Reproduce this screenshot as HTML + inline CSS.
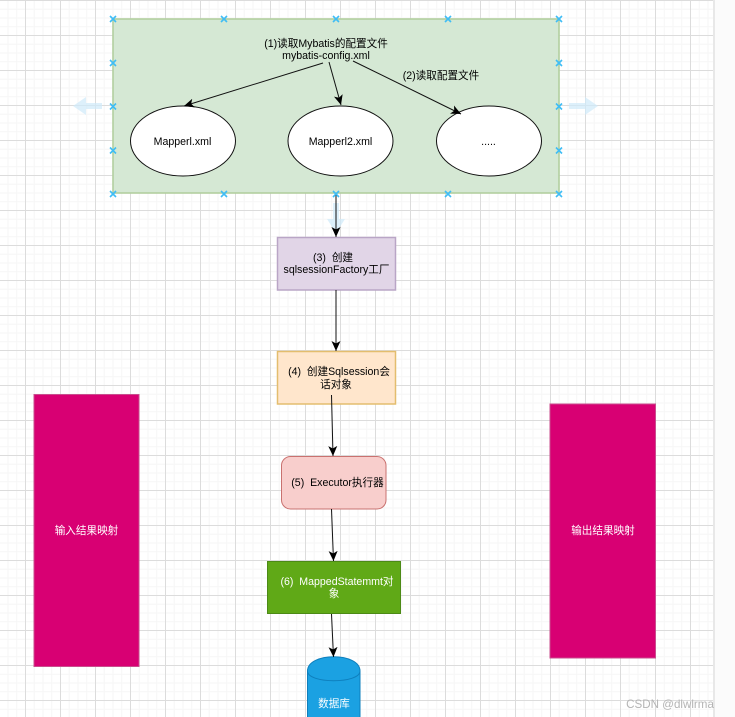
<!DOCTYPE html>
<html><head><meta charset="utf-8">
<style>
html,body{margin:0;padding:0;background:#fff;width:735px;height:717px;overflow:hidden}
#grid{position:absolute;left:0;top:0;width:713px;height:717px;
background-color:#fff;
background-image:
linear-gradient(to right,#dcdcdc 1px,transparent 1px),
linear-gradient(to bottom,#dcdcdc 1px,transparent 1px),
linear-gradient(to right,#f6f6f6 1px,transparent 1px),
linear-gradient(to bottom,#f6f6f6 1px,transparent 1px);
background-size:35px 35px,35px 35px,8.75px 8.75px,8.75px 8.75px;
background-position:25px 0,25px 0,25px 0,25px 0;}
#side{position:absolute;left:713px;top:0;width:22px;height:717px;background:#fbfbfb;border-left:2px solid #e8e8e8;box-sizing:border-box}
svg{display:block;position:absolute;left:0;top:0}
text{font-family:"Liberation Sans","Noto Sans CJK SC",sans-serif;font-size:10.6px;text-anchor:middle;fill:#000}
</style></head>
<body>
<div id="grid"></div>
<div id="side"></div>
<svg width="735" height="717" viewBox="0 0 735 717" xmlns="http://www.w3.org/2000/svg">
<defs>
<marker id="a" markerUnits="userSpaceOnUse" markerWidth="12" markerHeight="10" refX="10" refY="5" orient="auto">
<path d="M0 0.5L10 5L0 9.5L2.5 5Z" fill="#000"/>
</marker>
</defs>

<!-- hint arrows -->
<g fill="#cfeafa" opacity=".7">
<path d="M102 103V109H86V115L73 106L86 97V103Z"/>
<path d="M569 103V109H585V115L598 106L585 97V103Z"/>
<path d="M333 203H339V219H345L336 233L327 219H333Z"/>
</g>

<!-- group -->
<rect x="113" y="19" width="446" height="174" fill="#d5e8d4" stroke="#b2cf9f" stroke-width="1.600"/>
<ellipse cx="183" cy="141" rx="52.500" ry="35" fill="#fff" stroke="#111" stroke-width="1"/>
<ellipse cx="340.500" cy="141" rx="52.500" ry="35" fill="#fff" stroke="#111" stroke-width="1"/>
<ellipse cx="489" cy="141" rx="52.500" ry="35" fill="#fff" stroke="#111" stroke-width="1"/>

<text x="182.500" y="145">Mapperl.xml</text>
<text x="340.500" y="145">Mapperl2.xml</text>
<text x="488.500" y="145">.....</text>
<text x="326" y="47">(1)读取Mybatis的配置文件</text>
<text x="326" y="59">mybatis-config.xml</text>
<text x="441" y="79">(2)读取配置文件</text>

<!-- process boxes -->
<rect x="277.500" y="237.500" width="118" height="52.500" fill="#e1d5e7" stroke="#b9a5c6" stroke-width="1.500"/>
<text x="333" y="261">(3)&#160;&#160;创建</text>
<text x="336.500" y="273">sqlsessionFactory工厂</text>

<rect x="277.500" y="351.500" width="118" height="52.500" fill="#ffe6cc" stroke="#e3bd6e" stroke-width="1.500"/>
<text x="339" y="375">(4)&#160;&#160;创建Sqlsession会</text>
<text x="336" y="388">话对象</text>

<rect x="281.500" y="456.500" width="104.500" height="52.500" rx="9" fill="#f8cecc" stroke="#c9716f" stroke-width="1"/>
<text x="337.500" y="486">(5)&#160;&#160;Executor执行器</text>

<rect x="267.500" y="561.500" width="133" height="52" fill="#60a917" stroke="#4c8a16" stroke-width="1"/>
<text x="337" y="585" style="fill:#fff">(6)&#160;&#160;MappedStatemmt对</text>
<text x="334" y="597" style="fill:#fff">象</text>

<!-- side bars -->
<rect x="34" y="394.500" width="105" height="272" fill="#d80073" stroke="#c94d8d" stroke-width="1"/>
<text x="86.500" y="534" style="fill:#fff">输入结果映射</text>
<rect x="550" y="404" width="105.500" height="254" fill="#d80073" stroke="#c94d8d" stroke-width="1"/>
<text x="603" y="534" style="fill:#fff">输出结果映射</text>

<!-- database -->
<path d="M307.500 671C307.500 652 360 652 360 671V718H307.500Z" fill="#1ba1e2" stroke="#0e7fbd" stroke-width="1"/>
<path d="M307.500 671C307.500 684 360 684 360 671" fill="none" stroke="#0e7fbd" stroke-width="1"/>
<text x="334" y="707" style="fill:#fff">数据库</text>

<!-- connectors -->
<g stroke="#111" stroke-width="1" fill="none">
<line x1="323" y1="63" x2="184" y2="106" marker-end="url(#a)"/>
<line x1="329" y1="62" x2="341" y2="105" marker-end="url(#a)"/>
<line x1="353" y1="61" x2="461" y2="114" marker-end="url(#a)"/>
<line x1="336" y1="193" x2="336" y2="237" marker-end="url(#a)"/>
<line x1="336" y1="290" x2="336" y2="351" marker-end="url(#a)"/>
<line x1="331.500" y1="395" x2="333" y2="456" marker-end="url(#a)"/>
<line x1="331.500" y1="509" x2="333.500" y2="561" marker-end="url(#a)"/>
<line x1="331.500" y1="614" x2="333.500" y2="657" marker-end="url(#a)"/>
</g>

<!-- selection crosses -->
<g stroke="#3fbdf5" stroke-width="1.600" fill="none">
<path d="M110 16l6 6m0-6l-6 6"/>
<path d="M221 16l6 6m0-6l-6 6"/>
<path d="M333 16l6 6m0-6l-6 6"/>
<path d="M445 16l6 6m0-6l-6 6"/>
<path d="M556 16l6 6m0-6l-6 6"/>
<path d="M110 60l6 6m0-6l-6 6"/>
<path d="M556 60l6 6m0-6l-6 6"/>
<path d="M110 103.500l6 6m0-6l-6 6"/>
<path d="M556 103.500l6 6m0-6l-6 6"/>
<path d="M110 147.500l6 6m0-6l-6 6"/>
<path d="M556 147.500l6 6m0-6l-6 6"/>
<path d="M110 191l6 6m0-6l-6 6"/>
<path d="M221 191l6 6m0-6l-6 6"/>
<path d="M333 191l6 6m0-6l-6 6"/>
<path d="M445 191l6 6m0-6l-6 6"/>
<path d="M556 191l6 6m0-6l-6 6"/>
</g>

<text x="670" y="708" style="font-size:11.600px;fill:#b4b4b4">CSDN @dlwlrma</text>
</svg>
</body></html>
